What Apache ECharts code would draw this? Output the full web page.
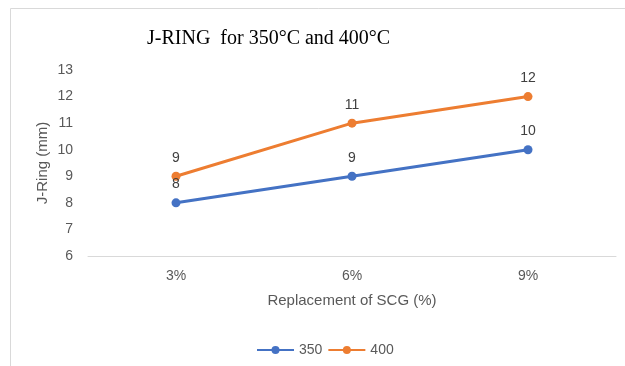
<!DOCTYPE html>
<html>
<head>
<meta charset="utf-8">
<script src="https://cdn.jsdelivr.net/npm/echarts@6/dist/echarts.min.js"></script>
<style>html,body{margin:0;padding:0;background:#fff}#c{width:625px;height:366px}</style>
</head>
<body>
<div id="c"></div>
<script>
const categories = ['3%', '6%', '9%'];
const series350 = [8, 9, 10];
const series400 = [9, 11, 12];
const seriesNames = ['350', '400'];
const yMin = 6, yMax = 13, yStep = 1;

const txt = '#595959';
const font = 'Liberation Sans';
const chart = echarts.init(document.getElementById('c'));
chart.setOption({
  animation: false,
  title: {
    text: 'J-RING  for 350°C and 400°C',
    left: 147, top: 29, padding: 0,
    textStyle: { fontFamily: 'Liberation Serif', fontSize: 20, fontWeight: 'normal', color: '#000' }
  },
  graphic: [{
    type: 'rect', silent: true, z: -1,
    shape: { x: 10.5, y: 8.5, width: 700, height: 400 },
    style: { fill: 'none', stroke: '#d9d9d9', lineWidth: 1 }
  }],
  legend: {
    data: seriesNames, left: 251, top: 338,
    itemWidth: 37, itemHeight: 10, itemGap: 5,
    textStyle: { fontFamily: font, fontSize: 14, color: txt }
  },
  grid: { left: 88, right: 9, top: 70, bottom: 110 },
  xAxis: {
    type: 'category', data: categories,
    axisLine: { lineStyle: { color: '#d9d9d9' } },
    axisTick: { show: false },
    axisLabel: { color: txt, fontFamily: font, fontSize: 14, margin: 13 },
    name: 'Replacement of SCG (%)', nameLocation: 'middle', nameGap: 37, nameMoveOverlap: false,
    nameTextStyle: { color: txt, fontFamily: font, fontSize: 15 }
  },
  yAxis: {
    type: 'value', min: yMin, max: yMax, interval: yStep,
    axisLine: { show: false }, axisTick: { show: false }, splitLine: { show: false },
    axisLabel: { color: txt, fontFamily: font, fontSize: 14, margin: 15 },
    name: 'J-Ring (mm)', nameLocation: 'middle', nameGap: 38, nameMoveOverlap: false,
    nameTextStyle: { color: txt, fontFamily: font, fontSize: 15 }
  },
  series: [
    {
      name: seriesNames[0], type: 'line', data: series350,
      color: '#4472C4', symbol: 'circle', symbolSize: 9,
      lineStyle: { width: 3 },
      label: { show: true, position: 'top', distance: 7, color: '#404040', fontFamily: font, fontSize: 14 }
    },
    {
      name: seriesNames[1], type: 'line', data: series400,
      color: '#ED7D31', symbol: 'circle', symbolSize: 9,
      lineStyle: { width: 3 },
      label: { show: true, position: 'top', distance: 7, color: '#404040', fontFamily: font, fontSize: 14 }
    }
  ]
});
</script>
</body>
</html>
